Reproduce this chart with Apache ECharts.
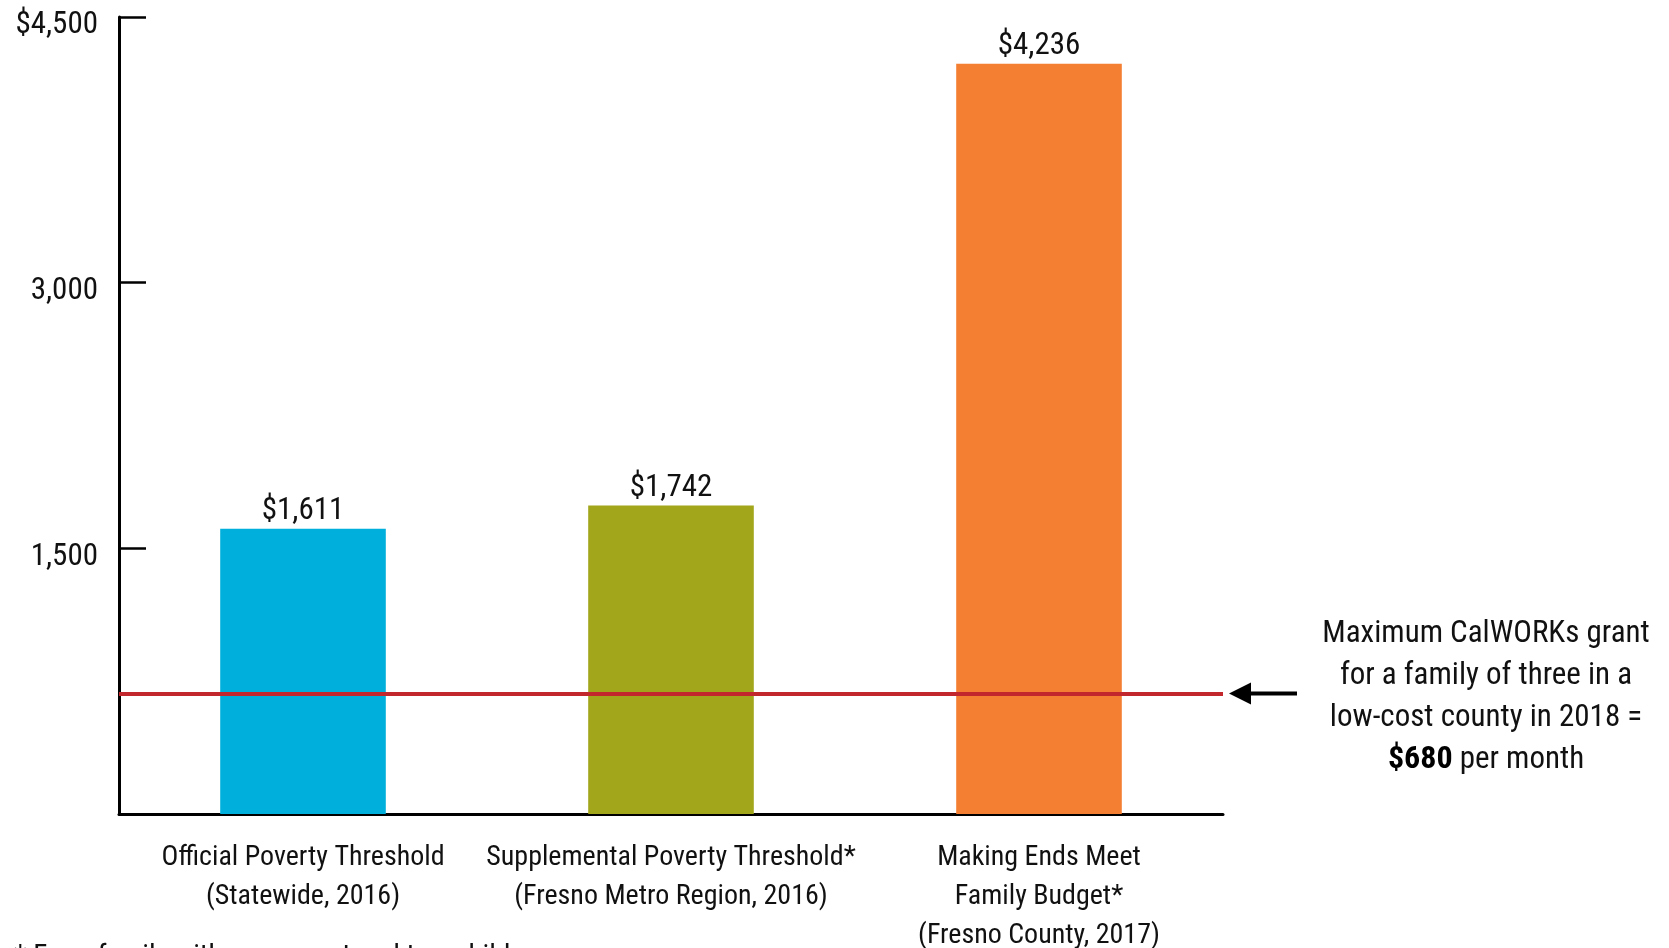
<!DOCTYPE html>
<html>
<head>
<meta charset="utf-8">
<script src="https://cdn.jsdelivr.net/npm/echarts@6/dist/echarts.min.js"></script>
<style>
html,body{margin:0;padding:0;background:#fff;}
#main{width:1669px;height:948px;}
</style>
</head>
<body>
<div id="main"></div>
<script>
const categories = [
  "Official Poverty Threshold\n(Statewide, 2016)",
  "Supplemental Poverty Threshold*\n(Fresno Metro Region, 2016)",
  "Making Ends Meet\nFamily Budget*\n(Fresno County, 2017)"
];
const values = [1611, 1742, 4236];
const grantValue = 680;
const yTicks = [0, 1500, 3000, 4500];
const barColors = ["#00afdb", "#a1a61b", "#f47e32"];

const FONT = '"Roboto Condensed", "DejaVu Sans Condensed", sans-serif';

function fmt(v){ return v.toString().replace(/\B(?=(\d{3})+(?!\d))/g, ","); }

const chart = echarts.init(document.getElementById('main'));
const option = {
  animation: false,
  backgroundColor: '#fff',
  grid: {left: 119, right: 446, top: 17, bottom: 134, containLabel: false, outerBoundsMode: 'none'},
  xAxis: {
    type: 'category',
    data: categories,
    axisLine: {lineStyle: {color: '#000', width: 3}},
    axisTick: {show: false},
    axisLabel: {fontFamily: FONT, fontSize: 28, lineHeight: 39, color: '#111', margin: 24, interval: 0}
  },
  yAxis: {
    type: 'value',
    min: yTicks[0],
    max: yTicks[yTicks.length - 1],
    interval: yTicks[1] - yTicks[0],
    splitLine: {show: false},
    axisLine: {show: true, lineStyle: {color: '#000', width: 3}},
    axisTick: {show: true, inside: true, length: 27, lineStyle: {color: '#000', width: 2.5}},
    axisLabel: {
      fontFamily: FONT, fontSize: 31, color: '#111', margin: 21,
      verticalAlign: 'top', lineHeight: 17,
      formatter: function(v){
        if (v === 0) return '';
        if (v === yTicks[yTicks.length - 1]) return '$' + fmt(v);
        return fmt(v);
      }
    }
  },
  series: [{
    type: 'bar',
    barWidth: '45%',
    data: values.map((v, i) => ({value: v, itemStyle: {color: barColors[i]}})),
    label: {
      show: true, position: 'top', distance: 2,
      fontFamily: FONT, fontSize: 31, color: '#111',
      formatter: p => '$' + fmt(p.value)
    },
    markLine: {
      silent: true,
      symbol: 'none',
      label: {show: false},
      lineStyle: {color: '#c1272d', width: 4, type: 'solid'},
      data: [{yAxis: grantValue}]
    }
  }]
};
chart.setOption(option);

const yPix = chart.convertToPixel({yAxisIndex: 0}, grantValue);
chart.setOption({
  graphic: [
    {type: 'line', shape: {x1: 1245, y1: yPix, x2: 1297, y2: yPix}, style: {stroke: '#000', lineWidth: 4}},
    {type: 'polygon', shape: {points: [[1229, yPix], [1251, yPix - 11], [1251, yPix + 11]]}, style: {fill: '#000'}},
    {
      type: 'text', x: 1486, y: 613,
      style: {
        text: 'Maximum CalWORKs grant\nfor a family of three in a\nlow-cost county in 2018 =\n{b|$680} per month',
        fontFamily: FONT, fontSize: 31, lineHeight: 42, fill: '#111', align: 'center',
        rich: {b: {fontFamily: FONT, fontSize: 32, fontWeight: 'bold', fill: '#000', lineHeight: 42}}
      }
    },
    {
      type: 'text', x: 14, y: 943,
      style: {text: '* For a family with one parent and two children.', fontFamily: FONT, fontSize: 29, fill: '#111'}
    }
  ]
});
</script>
</body>
</html>
